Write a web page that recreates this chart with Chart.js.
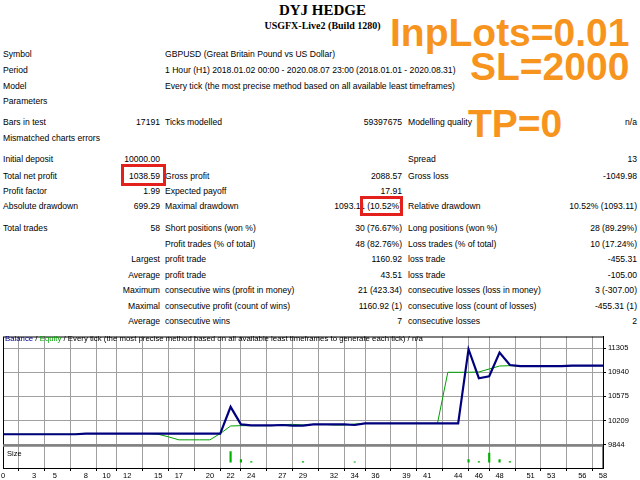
<!DOCTYPE html>
<html><head><meta charset="utf-8">
<script src="https://cdn.jsdelivr.net/npm/chart.js@4"></script>
<style>
body{margin:0;width:640px;height:480px;background:#fff;position:relative;overflow:hidden;font-family:"Liberation Sans",Arial,sans-serif;font-size:8.6px;color:#000}
.t{position:absolute;white-space:nowrap;line-height:10px}
.r{text-align:right}
.o{position:absolute;color:#f7941d;font-weight:bold;font-family:"Liberation Sans",Arial,sans-serif;white-space:nowrap;line-height:40px}
.box{position:absolute;border:3px solid #e3201b;box-sizing:border-box}
#wrap{position:absolute;left:0;top:330px;width:640px;height:150px}
</style></head><body>
<div class="t" style="left:0;width:645px;text-align:center;top:2px;font:bold 15px 'Liberation Serif',serif;line-height:16px">DYJ HEDGE</div>
<div class="t" style="left:0;width:645px;text-align:center;top:20px;font:bold 10px 'Liberation Serif',serif;line-height:12px">USGFX-Live2 (Build 1280)</div>
<div id="rows"></div>
<div class="o" style="left:390px;top:13px;font-size:39px">InpLots=0.01</div>
<div class="o" style="left:470px;top:47px;font-size:39px">SL=2000</div>
<div class="o" style="left:468px;top:104px;font-size:39px">TP=0</div>
<div class="box" style="left:121px;top:164px;width:45px;height:22px"></div>
<div class="box" style="left:360px;top:196px;width:43px;height:20px"></div>
<div id="wrap"><canvas id="c" width="640" height="150"></canvas></div>
<div class="t" style="left:5px;top:334px;font-size:7.8px"><span style="color:#00008b">Balance</span> / <span style="color:#00a000">Equity</span> / Every tick (the most precise method based on all available least timeframes to generate each tick) / n/a</div>
<script>
const trades=[0,1,2,3,4,5,6,7,8,9,10,11,12,13,14,15,16,17,18,19,20,21,22,23,24,25,26,27,28,29,30,31,32,33,34,35,36,37,38,39,40,41,42,43,44,45,46,47,48,49,50,51,52,53,54,55,56,57,58];
const balance=[10000,10000,10000,10000,10000,10000,10000,10000,10010,10010,10010,10010,10010,10010,10010,10010,10010,10010,10010,10010,10010,10010,10416,10150,10135,10135,10135,10140,10130,10130,10150,10150,10150,10150,10140,10165,10165,10165,10165,10165,10165,10165,10165,10165,10165,11290,10850,10880,11240,11050,11035,11035,11035,11035,11035,11040,11040,11040,11040];
const equity=[10000,10000,10000,10000,10000,10000,10000,10000,10010,10010,10010,10010,10010,10010,10010,10000,9960,9915,9915,9915,9915,10010,10125,10130,10130,10130,10130,10145,10150,10140,10150,10150,10140,10140,10155,10165,10165,10165,10165,10165,10165,10165,10165,10940,10940,10940,10945,10990,11035,11040,11035,11035,11035,11035,11035,11040,11040,11040,11040];
const sizeX=[22,23,24,29,34,45,46,47,48,49];
const sizeV=[10,2.5,0.4,0.4,0.3,2.5,0.4,8.5,2.5,0.4];
const yTicks=[9844,10209,10575,10940,11305];
const xTicks=[0,3,5,8,10,12,15,17,20,22,24,27,29,32,34,36,39,41,44,46,48,51,53,56,58];
const rows=[
[54,'Symbol','','GBPUSD (Great Britain Pound vs US Dollar)','','',''],
[70,'Period','','1 Hour (H1) 2018.01.02 00:00 - 2020.08.07 23:00 (2018.01.01 - 2020.08.31)','','',''],
[86,'Model','','Every tick (the most precise method based on all available least timeframes)','','',''],
[101,'Parameters','','','','',''],
[122,'Bars in test','17191','Ticks modelled','59397675','Modelling quality','n/a'],
[138,'Mismatched charts errors','','','','',''],
[159,'Initial deposit','10000.00','','','Spread','13'],
[176,'Total net profit','1038.59','Gross profit','2088.57','Gross loss','-1049.98'],
[191,'Profit factor','1.99','Expected payoff','17.91','',''],
[206,'Absolute drawdown','699.29','Maximal drawdown','1093.11 (10.52%)','Relative drawdown','10.52% (1093.11)'],
[228,'Total trades','58','Short positions (won %)','30 (76.67%)','Long positions (won %)','28 (89.29%)'],
[244,'','','Profit trades (% of total)','48 (82.76%)','Loss trades (% of total)','10 (17.24%)'],
[259,'','Largest','profit trade','1160.92','loss trade','-455.31'],
[275,'','Average','profit trade','43.51','loss trade','-105.00'],
[290,'','Maximum','consecutive wins (profit in money)','21 (423.34)','consecutive losses (loss in money)','3 (-307.00)'],
[306,'','Maximal','consecutive profit (count of wins)','1160.92 (1)','consecutive loss (count of losses)','-455.31 (1)'],
[321,'','Average','consecutive wins','7','consecutive losses','2']];
let h='';
for(const r of rows){const y=r[0]-5;
 h+=`<div class="t" style="left:3px;top:${y}px">${r[1]}</div>`;
 h+=`<div class="t r" style="right:${640-160}px;top:${y}px">${r[2]}</div>`;
 h+=`<div class="t" style="left:165px;top:${y}px">${r[3]}</div>`;
 h+=`<div class="t r" style="right:${640-402}px;top:${y}px">${r[4]}</div>`;
 h+=`<div class="t" style="left:408px;top:${y}px">${r[5]}</div>`;
 h+=`<div class="t r" style="right:3px;top:${y}px">${r[6]}</div>`;}
document.getElementById('rows').innerHTML=h;
const grid={color:'#a0a0a0',lineWidth:1,tickLength:3,tickColor:'#000'};
new Chart(document.getElementById('c'),{
 type:'line',
 data:{datasets:[
  {label:'Equity',data:trades.map((x,i)=>({x,y:equity[i]})),borderColor:'#00a000',borderWidth:1,pointRadius:0,yAxisID:'y',order:2},
  {label:'Balance',data:trades.map((x,i)=>({x,y:balance[i]})),borderColor:'#00007f',borderWidth:2.2,pointRadius:0,yAxisID:'y',order:1},
  {type:'bar',label:'Size',data:sizeX.map((x,i)=>({x,y:sizeV[i]})),backgroundColor:'#00b000',barThickness:1.5,yAxisID:'y2'}
 ]},
 options:{animation:false,responsive:false,events:[],
  layout:{padding:{left:3,top:2,right:0,bottom:0}},
  plugins:{legend:{display:false},tooltip:{enabled:false}},
  scales:{
   x:{type:'linear',min:0,max:58,offset:false,
      afterBuildTicks:a=>{a.ticks=xTicks.map(v=>({value:v}))},
      grid:{...grid,borderDash:[2,2],drawTicks:true},border:{color:'#000',width:1},
      ticks:{color:'#000',font:{family:'Liberation Sans',size:7.5},padding:0,autoSkip:false,maxRotation:0}},
   y:{position:'right',stack:'v',stackWeight:4.6,min:9844,max:11483,
      afterBuildTicks:a=>{a.ticks=yTicks.map(v=>({value:v}))},
      grid:{...grid,borderDash:[2,2]},border:{color:'#000',width:1},
      afterFit:a=>{a.width=37},
      ticks:{color:'#000',font:{family:'Liberation Sans',size:7.5},padding:2,callback:v=>String(v)}},
   y2:{position:'right',stack:'v',stackWeight:1,min:0,max:11,offset:true,
      grid:{display:false},border:{color:'#808080',width:2},
      afterFit:a=>{a.width=37},
      ticks:{display:false}}
  }},
 plugins:[{id:'frame',afterDraw(ch){const c=ch.ctx,a=ch.chartArea,ys=ch.scales.y;
   c.save();c.strokeStyle='#000';c.lineWidth=1;c.strokeRect(a.left+.5,a.top+.5,a.right-a.left,a.bottom-a.top);
   c.strokeStyle='#808080';c.lineWidth=2.5;c.beginPath();c.moveTo(a.left,ys.bottom+1);c.lineTo(a.right,ys.bottom+1);c.stroke();
   c.fillStyle='#000';c.font='7.5px Liberation Sans';c.fillText('Size',a.left+4,ys.bottom+11);c.restore();}}]
});
</script></body></html>
